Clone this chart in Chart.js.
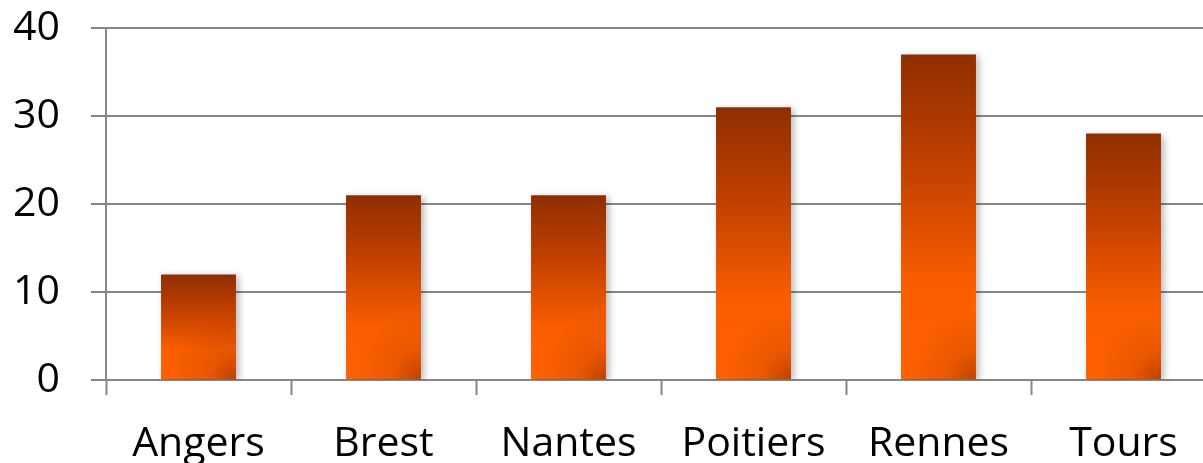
<!DOCTYPE html>
<html>
<head>
<meta charset="utf-8">
<script src="https://cdn.jsdelivr.net/npm/chart.js@4"></script>
<style>
  html, body { margin: 0; padding: 0; background: #fff; overflow: hidden; }
  #wrap { width: 1203px; height: 463px; overflow: hidden; }
</style>
</head>
<body>
<div id="wrap"><canvas id="villes" width="1216" height="463"></canvas></div>
<script>
const villes = ['Angers', 'Brest', 'Nantes', 'Poitiers', 'Rennes', 'Tours'];
const valeurs = [12, 21, 21, 31, 37, 28];
const yMax = 40;
const yStep = 10;

const gris = '#878787';

// bar fill: dark at the top of each bar, bright orange towards the base
function degrade(c) {
    const chart = c.chart;
    const y = chart.scales.y;
    if (!chart.chartArea || !y) return '#ff6000';
    const top = y.getPixelForValue(c.raw);
    const base = y.getPixelForValue(0);
    const g = chart.ctx.createLinearGradient(0, top, 0, base);
    g.addColorStop(0, '#8f2e00');
    g.addColorStop(0.35, '#c24100');
    g.addColorStop(0.72, '#fb5e00');
    g.addColorStop(1, '#ff6100');
    return g;
}

const ombre = {
    id: 'ombre',
    beforeDatasetsDraw(chart) {
        const ctx = chart.ctx;
        ctx.save();
        ctx.shadowColor = 'rgba(0,0,0,0.28)';
        ctx.shadowBlur = 7;
        ctx.shadowOffsetX = 3;
        ctx.shadowOffsetY = 2;
    },
    afterDatasetsDraw(chart) {
        const ctx = chart.ctx;
        ctx.restore();
        // soft darker corner at the bottom right of every bar
        chart.getDatasetMeta(0).data.forEach(bar => {
            const p = bar.getProps(['x', 'y', 'base', 'width'], true);
            const r = p.x + p.width / 2, l = p.x - p.width / 2;
            const g = ctx.createRadialGradient(r, p.base, 0, r, p.base, p.width * 0.9);
            g.addColorStop(0, 'rgba(110,30,0,0.45)');
            g.addColorStop(0.4, 'rgba(110,30,0,0.15)');
            g.addColorStop(1, 'rgba(110,30,0,0)');
            ctx.save();
            ctx.beginPath();
            ctx.rect(l, p.y, p.width, p.base - p.y);
            ctx.clip();
            ctx.fillStyle = g;
            ctx.fillRect(l, p.y, p.width, p.base - p.y);
            ctx.restore();
        });
    }
};

new Chart(document.getElementById('villes'), {
    type: 'bar',
    data: {
        labels: villes,
        datasets: [{
            data: valeurs,
            backgroundColor: degrade,
            borderWidth: 0,
            categoryPercentage: 1,
            barPercentage: 0.405
        }]
    },
    options: {
        responsive: false,
        animation: false,
        devicePixelRatio: 1,
        layout: { padding: { left: 14, right: 0, top: 28, bottom: 0 } },
        plugins: {
            legend: { display: false },
            tooltip: { enabled: false }
        },
        scales: {
            x: {
                grid: {
                    drawOnChartArea: false,
                    drawTicks: true,
                    tickLength: 15,
                    tickWidth: 2,
                    tickColor: gris,
                    offset: true
                },
                border: { color: gris, width: 2 },
                ticks: {
                    color: '#000',
                    padding: 29,
                    font: { family: 'Open Sans', size: 41, lineHeight: 1 }
                },
                afterFit(scale) {
                    scale.height = 83;
                    scale.paddingLeft = 0;
                    scale.paddingRight = 0;
                }
            },
            y: {
                min: 0,
                max: yMax,
                grid: {
                    color: gris,
                    lineWidth: 2,
                    tickLength: 15,
                    tickColor: gris
                },
                border: { color: gris, width: 2 },
                ticks: {
                    stepSize: yStep,
                    color: '#000',
                    padding: 31,
                    font: { family: 'Open Sans', size: 41, lineHeight: 1 }
                },
                afterFit(scale) {
                    scale.width = 92;
                    scale.paddingTop = 0;
                    scale.paddingBottom = 0;
                }
            }
        }
    },
    plugins: [ombre]
});
</script>
</body>
</html>
